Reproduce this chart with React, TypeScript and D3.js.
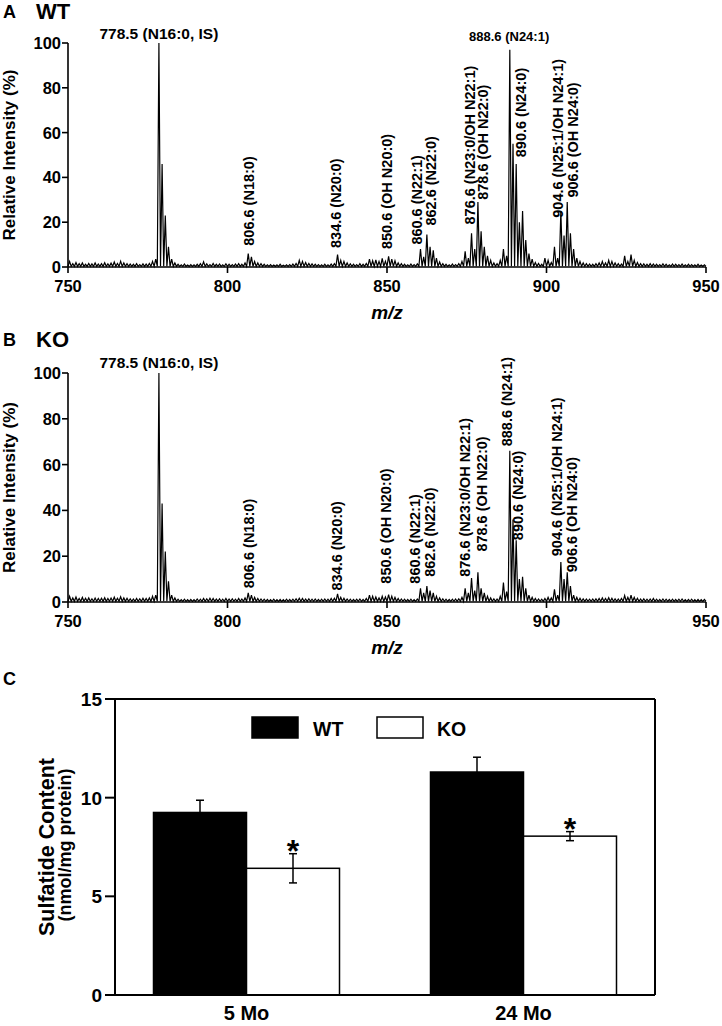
import React from "react";
import * as d3 from "d3";

const W = 722;
const H = 1026;
const FONT = "'Liberation Sans', Arial, Helvetica, sans-serif";

// ---------- spectra data ----------
const xTicks = [750, 800, 850, 900, 950];
const yTicks = [0, 20, 40, 60, 80, 100];
const mzFirst = 750.5; // m/z of first sample, one sample per Da

const wtIntensity = [
  2.5, 1.5, 2, 1.5, 1.8, 1.2, 1.6, 1.4, 1.8, 1.3,
  1.5, 1.9, 1.4, 1.7, 2.2, 1.6, 2.6, 1.8, 1.5, 1.3,
  1.2, 1.5, 1.1, 1.4, 1.3, 1.6, 2.5, 3.5, 100, 46,
  23, 9, 3.5, 1.8, 1.2, 1.0, 1.3, 0.9, 1.1, 1.0,
  1.2, 1.5, 2.3, 1.4, 1.1, 1.6, 1.2, 1.3, 1.0, 1.4,
  1.2, 1.1, 1.3, 1.5, 1.2, 1.8, 6, 4.5, 2.5, 1.8,
  1.5, 1.2, 1.0, 1.1, 0.9, 1.0, 1.2, 0.8, 1.0, 1.1,
  1.3, 1.6, 3, 2.5, 2, 1.6, 1.4, 1.2, 1.1, 1.0,
  1.2, 1.0, 1.3, 1.5, 5.5, 3, 2.5, 1.8, 1.4, 1.2,
  1.1, 1.5, 1.2, 1.6, 3.5, 2.8, 3.2, 2.5, 3.8, 2.6,
  4.8, 3.5, 2.8, 1.8, 1.5, 1.2, 1.0, 1.3, 1.1, 1.4,
  8, 4.5, 14.5, 9, 7.5, 4, 2.2, 1.5, 1.2, 1.0,
  1.3, 1.1, 1.5, 2.5, 7, 4, 15, 8, 29, 16,
  9, 5, 3, 1.8, 1.5, 3, 8, 5, 97, 55,
  46, 20, 25, 12, 6, 3.5, 2, 1.6, 1.2, 4,
  3, 2, 9, 4, 25, 14, 29, 15, 8, 4,
  2.5, 1.8, 1.5, 1.3, 1.2, 1.5, 1.8, 2.5, 1.8, 3,
  2.5, 1.8, 1.5, 1.3, 5, 2.5, 5.5, 3, 2, 1.5,
  1.4, 1.2, 1.5, 1.3, 1.2, 1.1, 1.4, 1.2, 1.0, 1.3,
  1.2, 1.1, 1.3, 1.0, 1.2, 1.1, 1.0, 1.2, 0.9, 1.0,
];

const koIntensity = [
  2.5, 1.8, 2.2, 1.5, 2, 1.6, 1.8, 1.4, 1.7, 1.5,
  1.6, 1.9, 1.5, 1.7, 2.1, 1.6, 2.3, 1.8, 1.6, 1.4,
  1.3, 1.5, 1.4, 1.6, 1.5, 1.8, 2.5, 3, 100, 43,
  22, 9, 3, 1.8, 1.2, 1.0, 1.2, 1.0, 1.1, 1.0,
  1.3, 1.2, 1.5, 1.4, 1.6, 1.5, 1.3, 1.4, 1.2, 1.5,
  1.3, 1.4, 1.2, 1.5, 1.3, 1.8, 4, 3, 2, 1.5,
  1.3, 1.2, 1.1, 1.0, 1.2, 1.0, 1.1, 1.0, 1.2, 1.1,
  1.2, 1.4, 1.6, 1.5, 1.3, 1.4, 1.2, 1.3, 1.1, 1.2,
  1.3, 1.2, 1.5, 1.6, 3.5, 2, 1.6, 1.3, 1.2, 1.1,
  1.2, 1.3, 1.1, 1.5, 3, 2.5, 2.2, 1.8, 2.5, 2.2,
  3.2, 2.5, 2, 1.5, 1.3, 1.2, 1.1, 1.2, 1.0, 1.3,
  6, 4, 7, 5, 4, 2.5, 1.8, 1.4, 1.2, 1.1,
  1.2, 1.3, 1.4, 2, 6, 4, 10.5, 5, 13, 6,
  4, 2.5, 1.8, 1.4, 1.3, 2.5, 8.5, 4.5, 66, 36,
  27, 10, 11, 6, 3, 2, 1.5, 1.3, 1.2, 1.5,
  2, 1.8, 5.5, 3, 17.5, 10, 13, 7, 3, 2,
  1.6, 1.4, 1.3, 1.2, 1.3, 1.4, 1.5, 1.8, 1.5, 1.9,
  1.6, 1.4, 1.3, 1.5, 2.8, 2, 3, 2, 1.6, 1.3,
  1.4, 1.2, 1.3, 1.5, 1.2, 1.1, 1.3, 1.2, 1.1, 1.2,
  1.1, 1.2, 1.3, 1.0, 1.1, 1.2, 1.0, 1.1, 1.0, 1.1,
];

// peak annotations: text and the m/z they point to
const wtPeakLabels = [
  { mz: 778.5, text: "778.5 (N16:0, IS)" },
  { mz: 888.6, text: "888.6 (N24:1)" },
  { mz: 806.6, text: "806.6 (N18:0)" },
  { mz: 834.6, text: "834.6 (N20:0)" },
  { mz: 850.6, text: "850.6 (OH N20:0)" },
  { mz: 860.6, text: "860.6 (N22:1)" },
  { mz: 862.6, text: "862.6 (N22:0)" },
  { mz: 876.6, text: "876.6 (N23:0/OH N22:1)" },
  { mz: 878.6, text: "878.6 (OH N22:0)" },
  { mz: 890.6, text: "890.6 (N24:0)" },
  { mz: 904.6, text: "904.6 (N25:1/OH N24:1)" },
  { mz: 906.6, text: "906.6 (OH N24:0)" },
];
const koPeakLabels = [
  { mz: 778.5, text: "778.5 (N16:0, IS)" },
  { mz: 806.6, text: "806.6 (N18:0)" },
  { mz: 834.6, text: "834.6 (N20:0)" },
  { mz: 850.6, text: "850.6 (OH N20:0)" },
  { mz: 860.6, text: "860.6 (N22:1)" },
  { mz: 862.6, text: "862.6 (N22:0)" },
  { mz: 876.6, text: "876.6 (N23:0/OH N22:1)" },
  { mz: 878.6, text: "878.6 (OH N22:0)" },
  { mz: 888.6, text: "888.6 (N24:1)" },
  { mz: 890.6, text: "890.6 (N24:0)" },
  { mz: 904.6, text: "904.6 (N25:1/OH N24:1)" },
  { mz: 906.6, text: "906.6 (OH N24:0)" },
];

// label layout (orientation, x nudge in px, bottom/baseline level in % units)
const wtLabelLayout = [
  { rot: false, dx: 0, at: 102, size: 15.5 },
  { rot: false, dx: -1, at: 101, size: 13 },
  { rot: true, dx: 0, at: 9.5 },
  { rot: true, dx: -2, at: 8.5 },
  { rot: true, dx: -2, at: 8 },
  { rot: true, dx: -4, at: 10 },
  { rot: true, dx: 4, at: 18.5 },
  { rot: true, dx: -2, at: 19 },
  { rot: true, dx: 5, at: 30 },
  { rot: true, dx: 4, at: 49 },
  { rot: true, dx: -3, at: 22 },
  { rot: true, dx: 5, at: 31 },
];
const koLabelLayout = [
  { rot: false, dx: 0, at: 102, size: 15.5 },
  { rot: true, dx: 0, at: 6 },
  { rot: true, dx: -1, at: 5 },
  { rot: true, dx: -3, at: 8 },
  { rot: true, dx: -6, at: 8 },
  { rot: true, dx: 3, at: 11 },
  { rot: true, dx: -7, at: 11 },
  { rot: true, dx: 4, at: 22 },
  { rot: true, dx: -3, at: 68 },
  { rot: true, dx: 1, at: 27 },
  { rot: true, dx: -4, at: 20 },
  { rot: true, dx: 4, at: 13 },
];

// ---------- bar chart data ----------
const ageGroups = ["5 Mo", "24 Mo"];
const genotypes = ["WT", "KO"];
const wtMeans = [9.25, 11.3];
const wtErrors = [0.62, 0.75];
const koMeans = [6.42, 8.05];
const koErrors = [0.74, 0.23];
const koSignificant = [true, true];
const barTicks = [0, 5, 10, 15];

type LabelDatum = { mz: number; text: string };
type LabelLayout = { rot: boolean; dx: number; at: number; size?: number };

function Spectrum(props: {
  top: number;
  bottom: number;
  letter: string;
  name: string;
  headerY: number;
  data: number[];
  labels: LabelDatum[];
  layout: LabelLayout[];
}) {
  const { top, bottom, letter, name, headerY, data, labels, layout } = props;
  const x = d3.scaleLinear().domain([750, 950]).range([68, 706]);
  const y = d3.scaleLinear().domain([0, 100]).range([bottom, top]);
  const trough = 0.3;
  const pts: [number, number][] = [];
  data.forEach((v, i) => {
    const mz = mzFirst + i;
    pts.push([mz - 0.5, trough]);
    pts.push([mz, v]);
  });
  pts.push([950, trough]);
  const line = d3
    .line<[number, number]>()
    .x((d) => x(d[0]))
    .y((d) => y(d[1]));

  const mid = (top + bottom) / 2;
  return (
    <g>
      <text x={3} y={headerY} fontSize={18} fontWeight="bold" fontFamily={FONT}>
        {letter}
      </text>
      <text x={36} y={headerY + 1} fontSize={22} fontWeight="bold" fontFamily={FONT}>
        {name}
      </text>
      <path d={line(pts) || ""} fill="none" stroke="#000" strokeWidth={1.2} strokeLinejoin="miter" />
      {/* y axis */}
      <line x1={x(750)} x2={x(750)} y1={y(0)} y2={y(100)} stroke="#000" strokeWidth={1.6} />
      {yTicks.map((t) => (
        <g key={"y" + t}>
          <line x1={x(750) - 6} x2={x(750)} y1={y(t)} y2={y(t)} stroke="#000" strokeWidth={1.6} />
          <text
            x={x(750) - 7}
            y={y(t)}
            dy="0.36em"
            textAnchor="end"
            fontSize={16.5}
            fontWeight="bold"
            fontFamily={FONT}
          >
            {t}
          </text>
        </g>
      ))}
      {/* x axis */}
      <line x1={x(750)} x2={x(950)} y1={y(0)} y2={y(0)} stroke="#000" strokeWidth={1.6} />
      {xTicks.map((t) => (
        <g key={"x" + t}>
          <line x1={x(t)} x2={x(t)} y1={y(0)} y2={y(0) + 6} stroke="#000" strokeWidth={1.6} />
          <text
            x={x(t)}
            y={y(0) + 25}
            textAnchor="middle"
            fontSize={16.5}
            fontWeight="bold"
            fontFamily={FONT}
          >
            {t}
          </text>
        </g>
      ))}
      <text
        x={387}
        y={y(0) + 52}
        textAnchor="middle"
        fontSize={19}
        fontWeight="bold"
        fontStyle="italic"
        fontFamily={FONT}
      >
        m/z
      </text>
      <text
        transform={`translate(15,${mid}) rotate(-90)`}
        textAnchor="middle"
        fontSize={17}
        fontWeight="bold"
        fontFamily={FONT}
      >
        Relative Intensity (%)
      </text>
      {labels.map((l, i) => {
        const lay = layout[i];
        const px = x(l.mz) + lay.dx;
        const py = y(lay.at);
        if (!lay.rot) {
          return (
            <text
              key={l.text}
              x={px}
              y={py}
              textAnchor="middle"
              fontSize={lay.size || 14}
              fontWeight="bold"
              fontFamily={FONT}
            >
              {l.text}
            </text>
          );
        }
        return (
          <text
            key={l.text}
            transform={`translate(${px},${py}) rotate(-90)`}
            dy="0.36em"
            textAnchor="start"
            fontSize={14.5}
            fontWeight="bold"
            fontFamily={FONT}
          >
            {l.text}
          </text>
        );
      })}
    </g>
  );
}

function BarPanel() {
  const left = 115;
  const right = 655;
  const top = 699;
  const bottom = 995;
  const y = d3.scaleLinear().domain([0, 15]).range([bottom, top]);
  const outer = d3
    .scaleBand<string>()
    .domain(ageGroups)
    .range([left, right])
    .paddingInner(0.3285)
    .paddingOuter(0.139);
  const inner = d3.scaleBand<string>().domain(genotypes).range([0, outer.bandwidth()]);
  const series = [
    { key: "WT", means: wtMeans, errs: wtErrors, fill: "#000" },
    { key: "KO", means: koMeans, errs: koErrors, fill: "#fff" },
  ];
  return (
    <g fontFamily={FONT} fontWeight="bold">
      <text x={3} y={685} fontSize={18}>
        C
      </text>
      {series.map((s) =>
        ageGroups.map((g, i) => {
          const bx = (outer(g) || 0) + (inner(s.key) || 0);
          const bw = inner.bandwidth();
          const cx = bx + bw / 2;
          const v = s.means[i];
          const e = s.errs[i];
          return (
            <g key={s.key + g}>
              <rect
                x={bx}
                y={y(v)}
                width={bw}
                height={y(0) - y(v)}
                fill={s.fill}
                stroke="#000"
                strokeWidth={1.5}
              />
              <line x1={cx} x2={cx} y1={y(v - e)} y2={y(v + e)} stroke="#000" strokeWidth={1.5} />
              <line x1={cx - 4} x2={cx + 4} y1={y(v + e)} y2={y(v + e)} stroke="#000" strokeWidth={1.5} />
              <line x1={cx - 4} x2={cx + 4} y1={y(v - e)} y2={y(v - e)} stroke="#000" strokeWidth={1.5} />
              {s.key === "KO" && koSignificant[i] ? (
                <text x={cx} y={y(v + e) + 8} textAnchor="middle" fontSize={32}>
                  *
                </text>
              ) : null}
            </g>
          );
        })
      )}
      {/* frame */}
      <line x1={left} x2={right} y1={top} y2={top} stroke="#000" strokeWidth={2} />
      <line x1={right} x2={right} y1={top} y2={bottom} stroke="#000" strokeWidth={2} />
      <line x1={left} x2={left} y1={top} y2={bottom} stroke="#000" strokeWidth={2} />
      <line x1={left} x2={right} y1={bottom} y2={bottom} stroke="#000" strokeWidth={2} />
      {barTicks.map((t) => (
        <g key={t}>
          <line x1={left - 10} x2={left} y1={y(t)} y2={y(t)} stroke="#000" strokeWidth={2} />
          <text x={left - 13} y={y(t)} dy="0.36em" textAnchor="end" fontSize={19}>
            {t}
          </text>
        </g>
      ))}
      {ageGroups.map((g) => (
        <text
          key={g}
          x={(outer(g) || 0) + outer.bandwidth() / 2}
          y={1020}
          textAnchor="middle"
          fontSize={20}
        >
          {g}
        </text>
      ))}
      <text transform={`translate(54,847) rotate(-90)`} textAnchor="middle" fontSize={21.5}>
        Sulfatide Content
      </text>
      <text transform={`translate(71,845) rotate(-90)`} textAnchor="middle" fontSize={18}>
        (nmol/mg protein)
      </text>
      {/* legend */}
      <rect x={252} y={717} width={46} height={21} fill="#000" stroke="#000" strokeWidth={1.5} />
      <text x={313} y={736} fontSize={19.5}>
        WT
      </text>
      <rect x={377} y={717} width={46} height={21} fill="#fff" stroke="#000" strokeWidth={1.5} />
      <text x={437} y={736} fontSize={19.5}>
        KO
      </text>
    </g>
  );
}

export default function App() {
  return (
    <svg
      width={W}
      height={H}
      viewBox={`0 0 ${W} ${H}`}
      style={{ position: "absolute", left: 0, top: 0, background: "#fff" }}
    >
      <rect x={0} y={0} width={W} height={H} fill="#fff" />
      <Spectrum
        top={43}
        bottom={267}
        letter="A"
        name="WT"
        headerY={18}
        data={wtIntensity}
        labels={wtPeakLabels}
        layout={wtLabelLayout}
      />
      <Spectrum
        top={373}
        bottom={602}
        letter="B"
        name="KO"
        headerY={346}
        data={koIntensity}
        labels={koPeakLabels}
        layout={koLabelLayout}
      />
      <BarPanel />
    </svg>
  );
}
